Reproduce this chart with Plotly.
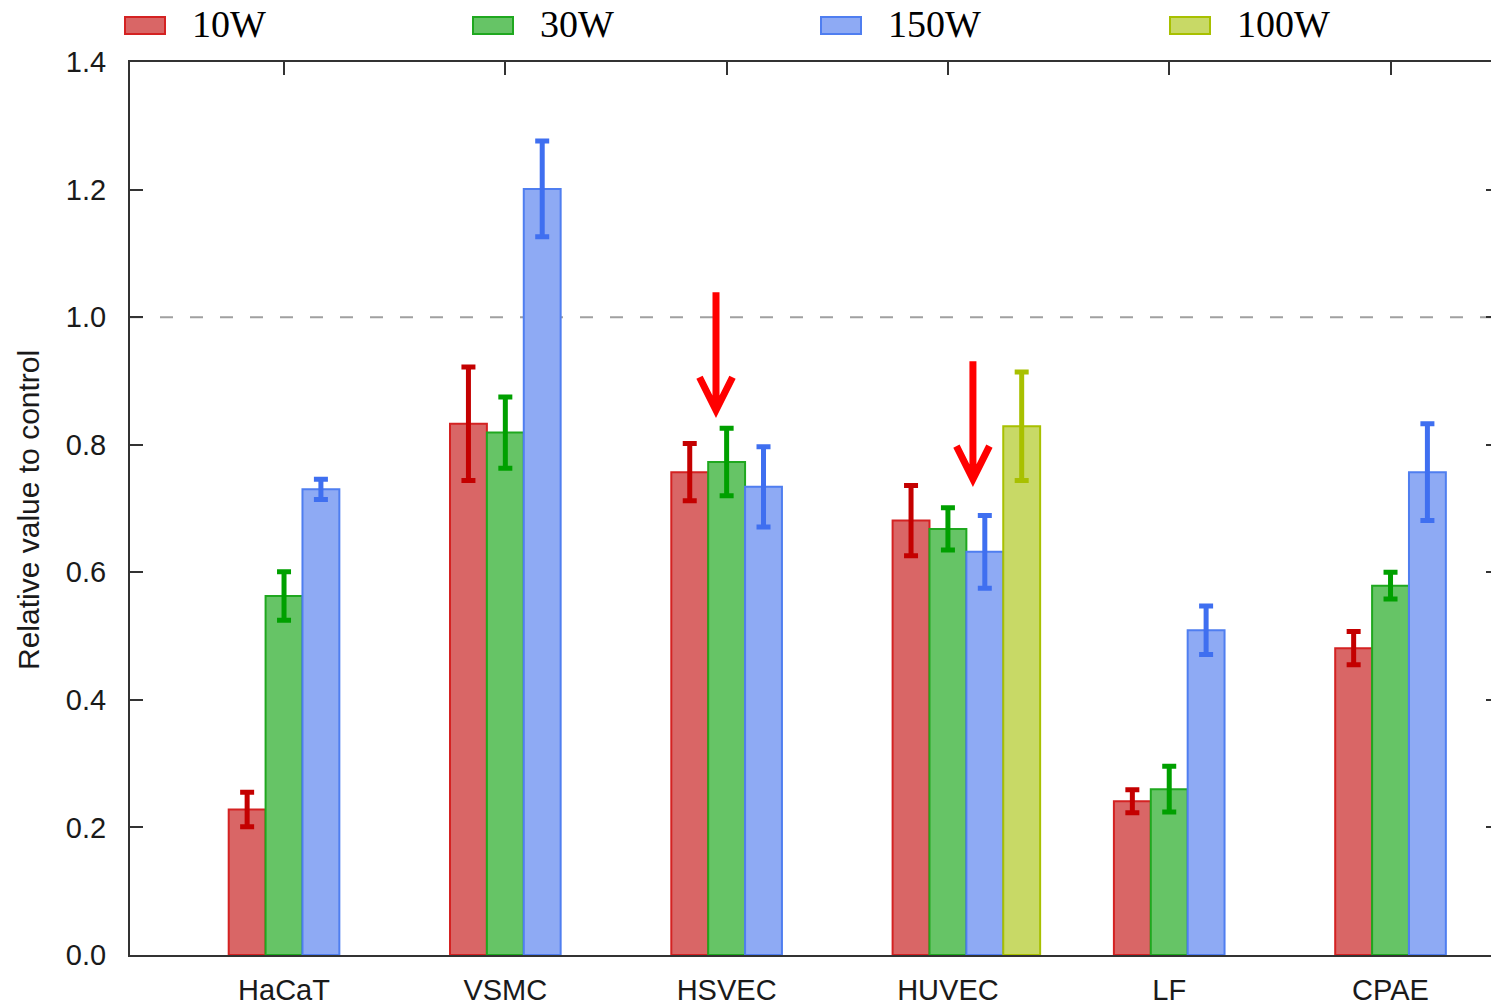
import plotly.graph_objects as go

# ---- data ----
categories = ["HaCaT", "VSMC", "HSVEC", "HUVEC", "LF", "CPAE"]
series_names = ["10W", "30W", "150W", "100W"]
vals_10w = [0.228, 0.833, 0.757, 0.681, 0.241, 0.481]
err_10w = [0.027, 0.089, 0.045, 0.055, 0.018, 0.026]
vals_30w = [0.563, 0.819, 0.773, 0.668, 0.260, 0.579]
err_30w = [0.038, 0.056, 0.053, 0.033, 0.036, 0.021]
vals_150w = [0.730, 1.201, 0.734, 0.632, 0.509, 0.757]
err_150w = [0.016, 0.075, 0.063, 0.057, 0.038, 0.076]
vals_100w = [None, None, None, 0.829, None, None]
err_100w = [None, None, None, 0.085, None, None]
y_ticks = [0.0, 0.2, 0.4, 0.6, 0.8, 1.0, 1.2, 1.4]
reference_level = 1.0
# annotation arrows: (x position in category units, top value, tip value)
arrows = [(1.952, 1.039, 0.854), (3.113, 0.931, 0.746)]

# ---- styles ----
fills = ["#d96666", "#66c466", "#8eaaf4", "#c8d966"]
edges = ["#d42222", "#1fa81f", "#4f7ef0", "#a8c000"]
errcols = ["#c40000", "#00a000", "#3f6ff0", "#a8c000"]

W, H = 1491, 1007
ML, MR, MT, MB = 130, 0, 62, 52
pw, ph = W - ML - MR, H - MT - MB
x_range = [-0.696, 5.454]
bar_w = 1 / 6


def px_x(px):
    return (px - ML) / pw


def px_y(py):
    return (H - MB - py) / ph


values = [vals_10w, vals_30w, vals_150w, vals_100w]
errors = [err_10w, err_30w, err_150w, err_100w]
xs = list(range(len(categories)))

fig = go.Figure()
for k, name in enumerate(series_names):
    fig.add_trace(go.Bar(
        x=xs, y=values[k], name=name,
        width=bar_w, offset=-0.25 + k * bar_w,
        marker=dict(color=fills[k], line=dict(color=edges[k], width=2)),
        error_y=dict(type="data", array=errors[k], visible=True,
                     color=errcols[k], thickness=5, width=7),
        showlegend=False,
    ))

# helper trace for mirrored axes
fig.add_trace(go.Scatter(x=[0], y=[None], xaxis="x2", yaxis="y2",
                         showlegend=False, hoverinfo="skip", mode="markers"))

axis_col = "#333333"
sans = "Liberation Sans, Arial, sans-serif"
fig.update_layout(
    width=W, height=H,
    margin=dict(l=ML, r=MR, t=MT, b=MB),
    paper_bgcolor="white", plot_bgcolor="white",
    barmode="overlay",
    font=dict(family=sans, size=29, color="#1a1a1a"),
    xaxis=dict(range=x_range, tickvals=xs, ticktext=categories,
               showline=True, linecolor=axis_col, linewidth=2,
               ticks="", showgrid=False, zeroline=False,
               tickfont=dict(size=29, color="#1a1a1a"), ticklabelstandoff=8),
    xaxis2=dict(range=x_range, overlaying="x", side="top", tickvals=xs,
                showticklabels=False, ticks="inside", ticklen=13, tickwidth=2,
                tickcolor=axis_col, showline=True, linecolor=axis_col, linewidth=2,
                showgrid=False, zeroline=False),
    yaxis=dict(range=[0, 1.4], tickvals=y_ticks, tickformat=".1f",
               showline=True, linecolor=axis_col, linewidth=2,
               ticks="inside", ticklen=13, tickwidth=2, tickcolor=axis_col,
               showgrid=False, zeroline=False,
               tickfont=dict(size=29, color="#1a1a1a"), ticklabelstandoff=16),
    yaxis2=dict(range=[0, 1.4], overlaying="y", side="right", tickvals=y_ticks,
                showticklabels=False, ticks="inside", ticklen=5, tickwidth=2,
                tickcolor=axis_col, showline=False, showgrid=False, zeroline=False),
)

# dashed reference line
fig.add_shape(type="line", xref="paper", yref="y", x0=0, x1=1,
              y0=reference_level, y1=reference_level,
              line=dict(color="#a0a0a0", width=2, dash="13px,17px"), layer="below")

# red arrows
dx = 16.5 / pw * (x_range[1] - x_range[0])
dy = 33 / ph * 1.4
for ax_, top, tip in arrows:
    path = (f"M {ax_},{top} L {ax_},{tip} "
            f"M {ax_ - dx},{tip + dy} L {ax_},{tip} L {ax_ + dx},{tip + dy}")
    fig.add_shape(type="path", xref="x", yref="y", path=path,
                  line=dict(color="#ff0000", width=7), layer="above")

# y title
fig.add_annotation(text="Relative value to control", xref="paper", yref="paper",
                   x=px_x(28), y=px_y(510), textangle=-90, showarrow=False,
                   font=dict(family=sans, size=30, color="#1a1a1a"),
                   xanchor="center", yanchor="middle")

# legend (manual)
leg_box_x = [125, 473, 821, 1170]
for k, name in enumerate(series_names):
    bx = leg_box_x[k]
    fig.add_shape(type="rect", xref="paper", yref="paper",
                  x0=px_x(bx), x1=px_x(bx + 40), y0=px_y(34), y1=px_y(17),
                  fillcolor=fills[k], line=dict(color=edges[k], width=2))
    fig.add_annotation(text=name, xref="paper", yref="paper",
                       x=px_x(bx + 65), y=px_y(24), showarrow=False,
                       xanchor="left", yanchor="middle",
                       font=dict(family="Liberation Serif, Times New Roman, serif",
                                 size=38, color="black"))

fig.write_html("out.html")
